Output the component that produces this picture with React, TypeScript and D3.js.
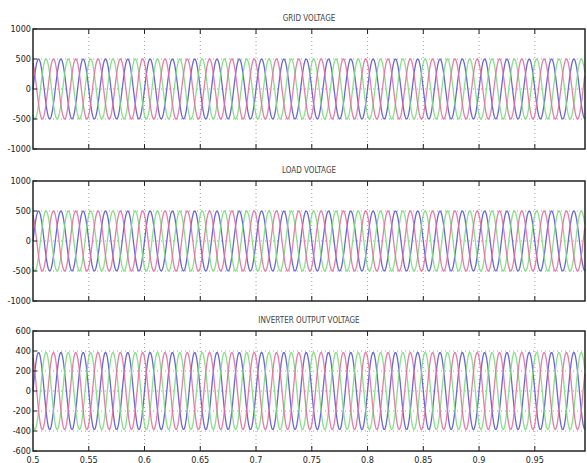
import React, { useRef, useEffect } from "react";
import * as d3 from "d3";

// x axis (time, s)
const timeDomain = [0.5, 0.995];
const timeTicks = [0.5, 0.55, 0.6, 0.65, 0.7, 0.75, 0.8, 0.85, 0.9, 0.95];
const timeLabels = ["0.5", "0.55", "0.6", "0.65", "0.7", "0.75", "0.8", "0.85", "0.9", "0.95"];

// panels
const panelTitles = ["GRID VOLTAGE", "LOAD VOLTAGE", "INVERTER OUTPUT VOLTAGE"];
const gridTicks = [1000, 500, 0, -500, -1000];
const loadTicks = [1000, 500, 0, -500, -1000];
const inverterTicks = [600, 400, 200, 0, -200, -400, -600];

// three phase waves
const phaseNames = ["a", "b", "c"];
const phaseShiftDeg = [0, -120, 120];
const phaseColors = ["#5a58cc", "#7ddc7d", "#e2709e"];
const frequencyHz = 50;
const gridAmplitude = 500;
const loadAmplitude = 500;
const inverterAmplitude = 385;

const width = 587,
  height = 463;
const left = 33,
  right = 585;
const panelTop = [29, 181, 331];
const panelHeight = 120;
const font = "'Liberation Sans Narrow', 'DejaVu Sans Condensed', sans-serif";

export default function App() {
  const svgRef = useRef<SVGSVGElement>(null);

  useEffect(() => {
    const svg = d3.select(svgRef.current);
    svg.selectAll("*").remove();

    const x = d3.scaleLinear().domain(timeDomain).range([left, right]);

    const panels = [
      { title: panelTitles[0], ticks: gridTicks, amp: gridAmplitude },
      { title: panelTitles[1], ticks: loadTicks, amp: loadAmplitude },
      { title: panelTitles[2], ticks: inverterTicks, amp: inverterAmplitude },
    ];

    // sample times for drawing the sine lines
    const samples = d3.range(timeDomain[0], timeDomain[1] + 1e-9, 0.0004);

    panels.forEach((p, i) => {
      const top = panelTop[i];
      const y = d3
        .scaleLinear()
        .domain([p.ticks[p.ticks.length - 1], p.ticks[0]])
        .range([top + panelHeight, top]);

      const g = svg.append("g");

      // dotted grid
      g.selectAll(".vgrid")
        .data(timeTicks.slice(1))
        .join("line")
        .attr("x1", (d) => x(d))
        .attr("x2", (d) => x(d))
        .attr("y1", top)
        .attr("y2", top + panelHeight)
        .attr("stroke", "#8a8a8a")
        .attr("stroke-width", 0.8)
        .attr("stroke-dasharray", "1,3");

      g.selectAll(".hgrid")
        .data(p.ticks.slice(1, -1))
        .join("line")
        .attr("x1", left)
        .attr("x2", right)
        .attr("y1", (d) => y(d))
        .attr("y2", (d) => y(d))
        .attr("stroke", "#8a8a8a")
        .attr("stroke-width", 0.8)
        .attr("stroke-dasharray", "1,3");

      // waves
      phaseNames.forEach((_, j) => {
        const line = d3
          .line<number>()
          .x((t) => x(t))
          .y((t) => y(p.amp * Math.sin(2 * Math.PI * frequencyHz * t + (phaseShiftDeg[j] * Math.PI) / 180)));
        g.append("path")
          .attr("d", line(samples))
          .attr("fill", "none")
          .attr("stroke", phaseColors[j])
          .attr("stroke-width", 1.3)
          .attr("opacity", 0.9);
      });

      // frame
      g.append("rect")
        .attr("x", left)
        .attr("y", top)
        .attr("width", right - left)
        .attr("height", panelHeight)
        .attr("fill", "none")
        .attr("stroke", "#222")
        .attr("stroke-width", 1.5);

      // x ticks inside, top and bottom
      g.selectAll(".xt")
        .data(timeTicks.slice(1))
        .join("path")
        .attr("d", (d) => `M${x(d)},${top}v5M${x(d)},${top + panelHeight}v-5`)
        .attr("stroke", "#222")
        .attr("stroke-width", 1);

      // y ticks inside
      g.selectAll(".yt")
        .data(p.ticks)
        .join("path")
        .attr("d", (d) => `M${left},${y(d)}h4`)
        .attr("stroke", "#222")
        .attr("stroke-width", 1);

      g.selectAll(".yl")
        .data(p.ticks)
        .join("text")
        .attr("x", left - 2)
        .attr("y", (d) => y(d) + 3)
        .attr("text-anchor", "end")
        .attr("font-size", 9)
        .attr("font-family", font)
        .attr("fill", "#222")
        .text((d) => String(d));

      g.append("text")
        .attr("x", (left + right) / 2)
        .attr("y", top - 8)
        .attr("text-anchor", "middle")
        .attr("font-size", 8)
        .attr("font-family", font)
        .attr("fill", "#444")
        .text(p.title);
    });

    // x tick labels under the last panel
    svg
      .append("g")
      .selectAll("text")
      .data(timeTicks)
      .join("text")
      .attr("x", (d) => x(d))
      .attr("y", panelTop[2] + panelHeight + 11.5)
      .attr("text-anchor", "middle")
      .attr("font-size", 9)
      .attr("font-family", font)
      .attr("fill", "#222")
      .text((_, i) => timeLabels[i]);
  }, []);

  return (
    <svg
      ref={svgRef}
      width={width}
      height={height}
      style={{ position: "absolute", left: 0, top: 0, background: "white" }}
    />
  );
}
